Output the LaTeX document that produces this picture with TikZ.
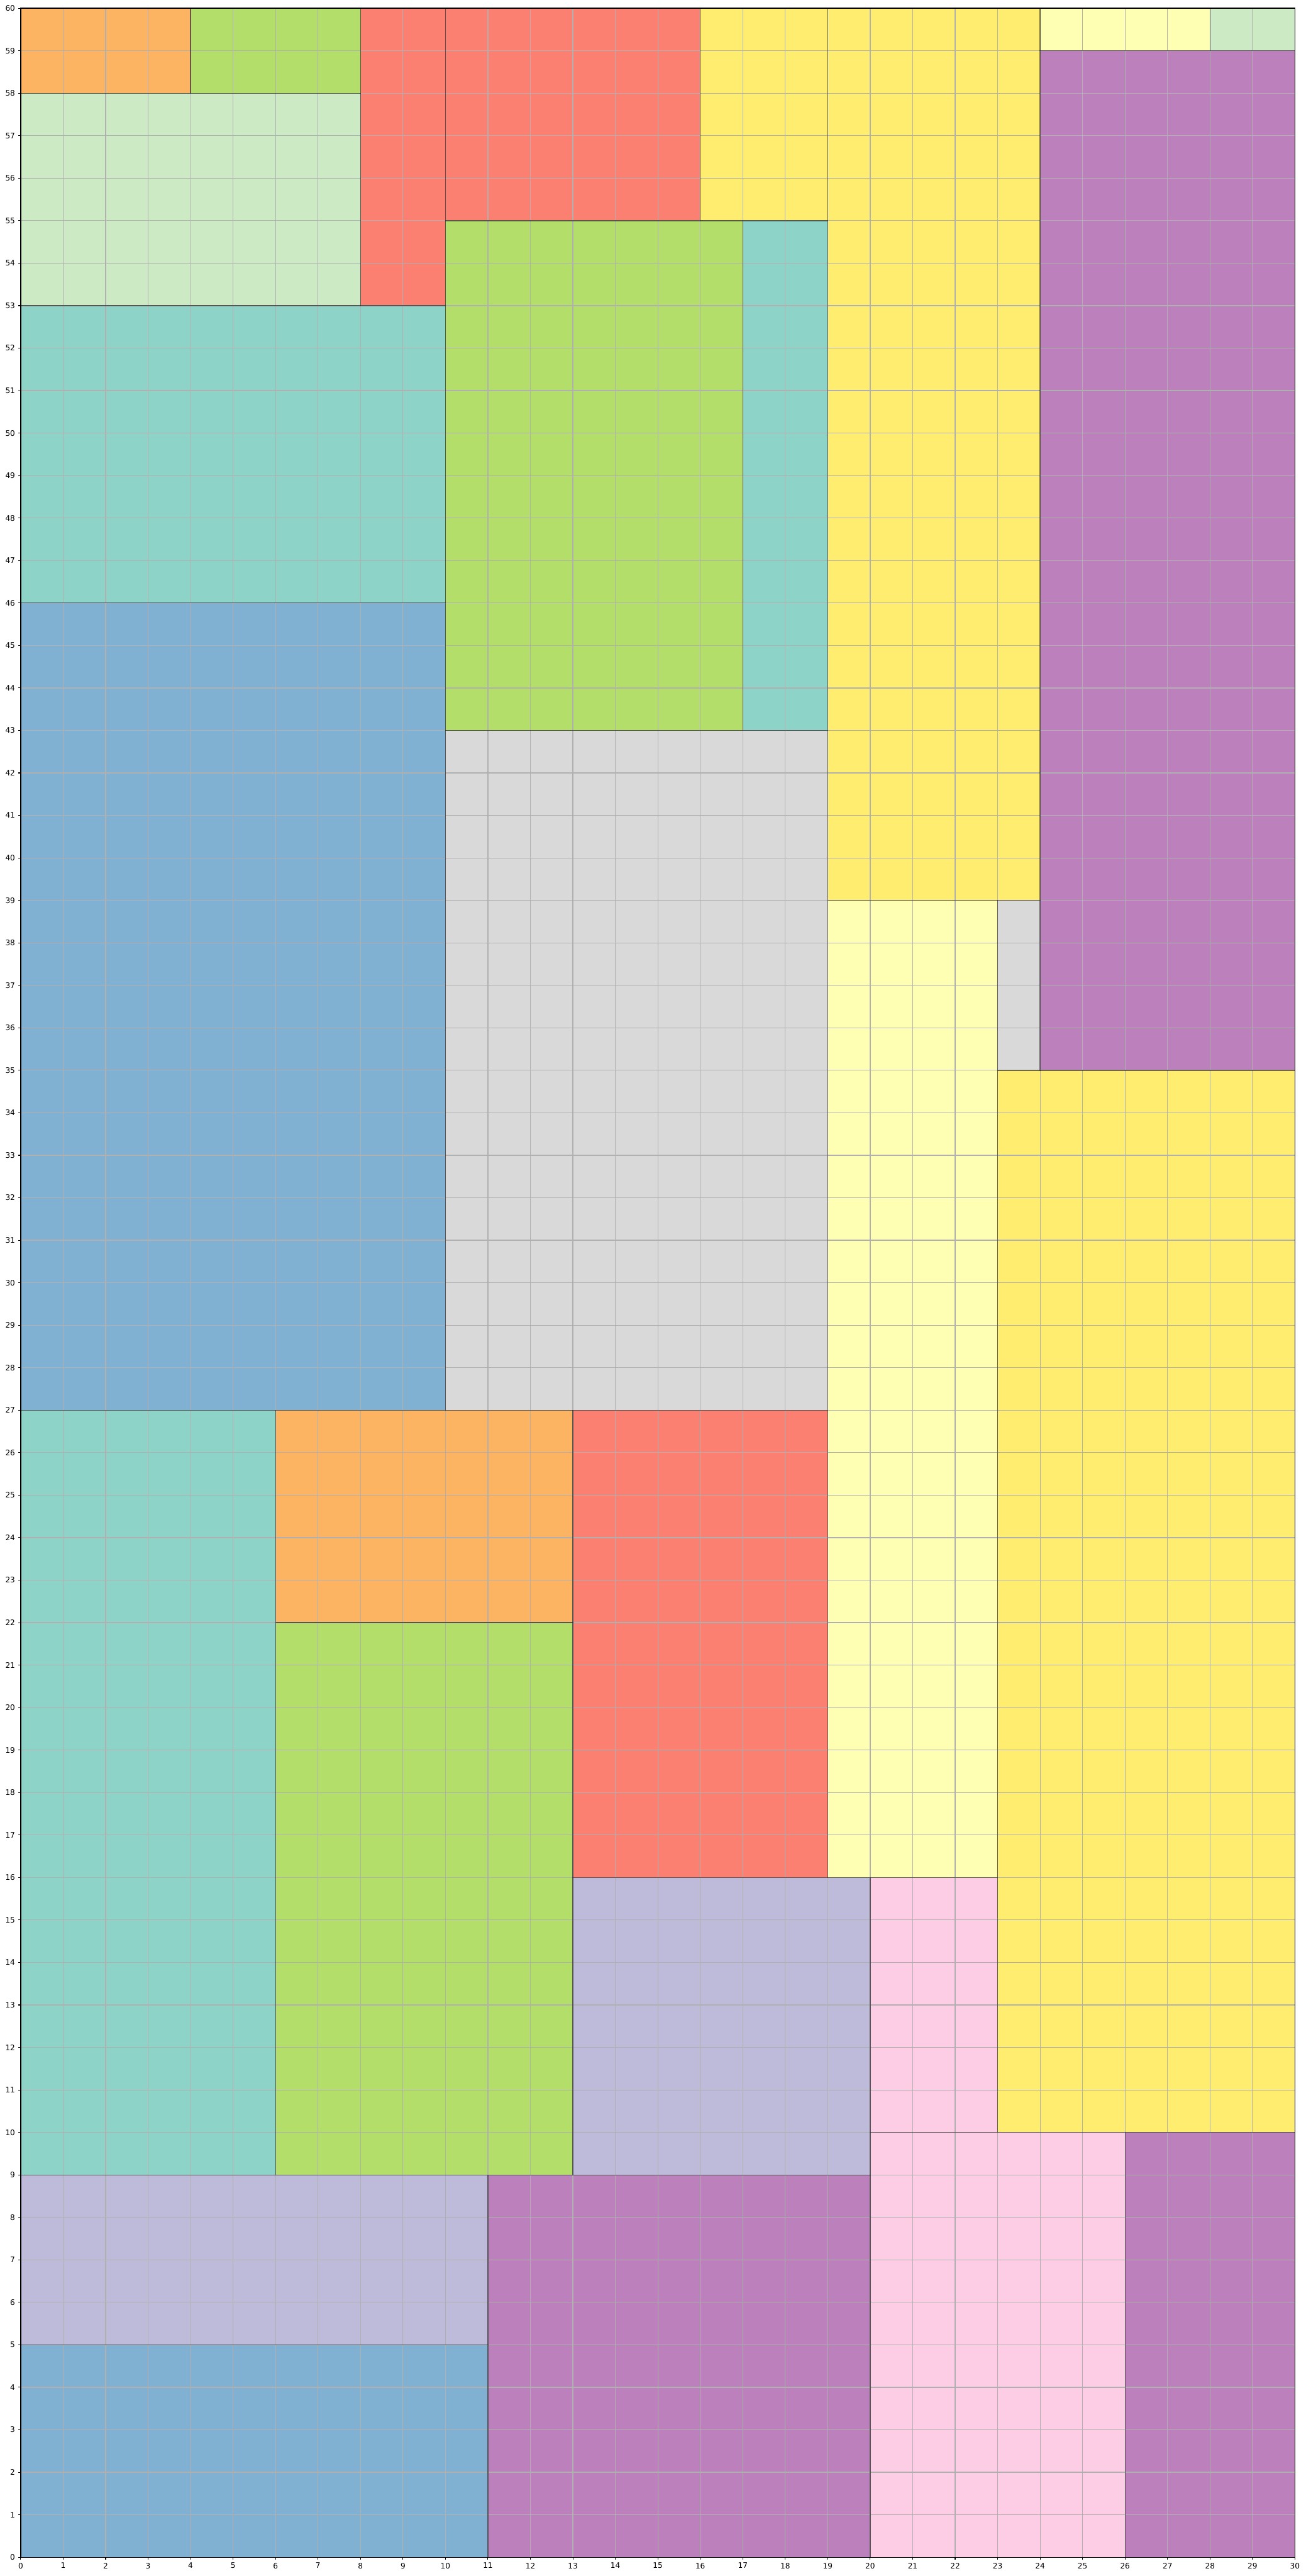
\documentclass[tikz,border=0pt]{standalone}
\usepackage{fontspec}
\setmainfont{DejaVu Sans}
\definecolor{cOr}{HTML}{FDB462}
\definecolor{cGr}{HTML}{B3DE69}
\definecolor{cRd}{HTML}{FB8072}
\definecolor{cTl}{HTML}{8DD3C7}
\definecolor{cBl}{HTML}{80B1D3}
\definecolor{cGy}{HTML}{D9D9D9}
\definecolor{cPy}{HTML}{FFFFB3}
\definecolor{cYl}{HTML}{FFED6F}
\definecolor{cLv}{HTML}{BEBADA}
\definecolor{cPk}{HTML}{FCCDE5}
\definecolor{cPu}{HTML}{BC80BD}
\definecolor{cLg}{HTML}{CCEBC5}
\definecolor{gridc}{HTML}{B0B0B0}
\tikzset{
  cell/.style={fill=#1, draw=none},
  celledge/.style={draw=black, draw opacity=0.3, line width=0.55pt},
  gridline/.style={draw=gridc, line width=0.5pt},
  frame/.style={draw=black, line width=0.55pt},
  tickmark/.style={draw=black, line width=0.45pt},
  ticklab/.style={font=\fontsize{5.1}{6}\selectfont, inner sep=0pt}
}
\begin{document}
\begin{tikzpicture}[x=1cm,y=1cm]
\useasboundingbox (-0.487,-0.4416) rectangle (30.247,60.195);
\fill[white] (-0.487,-0.4416) rectangle (30.247,60.195);
% rectangles: x1/y1/x2/y2/colour
\foreach \a/\b/\c/\d/\col in {
  0/58/4/60/cOr, 4/58/8/60/cGr, 8/53/10/60/cRd, 10/55/16/60/cRd,
  16/55/19/60/cYl, 19/39/24/60/cYl, 24/59/28/60/cPy, 28/59/30/60/cLg,
  24/35/30/59/cPu, 0/53/8/58/cLg, 0/46/10/53/cTl, 10/43/17/55/cGr,
  17/43/19/55/cTl, 0/27/10/46/cBl, 10/27/19/43/cGy, 19/16/23/39/cPy,
  23/35/24/39/cGy, 23/10/30/35/cYl, 0/9/6/27/cTl, 6/22/13/27/cOr,
  13/16/19/27/cRd, 6/9/13/22/cGr, 13/9/20/16/cLv, 20/10/23/16/cPk,
  0/5/11/9/cLv, 0/0/11/5/cBl, 11/0/20/9/cPu, 20/0/26/10/cPk, 26/0/30/10/cPu}
  {\fill[cell=\col] (\a,\b) rectangle (\c,\d);}
% grid
\foreach \i in {1,...,29} {\draw[gridline] (\i,0) -- (\i,60);}
\foreach \j in {1,...,59} {\draw[gridline] (0,\j) -- (30,\j);}
% rectangle edges
\foreach \a/\b/\c/\d in {
  0/58/4/60, 4/58/8/60, 8/53/10/60, 10/55/16/60,
  16/55/19/60, 19/39/24/60, 24/59/28/60, 28/59/30/60,
  24/35/30/59, 0/53/8/58, 0/46/10/53, 10/43/17/55,
  17/43/19/55, 0/27/10/46, 10/27/19/43, 19/16/23/39,
  23/35/24/39, 23/10/30/35, 0/9/6/27, 6/22/13/27,
  13/16/19/27, 6/9/13/22, 13/9/20/16, 20/10/23/16,
  0/5/11/9, 0/0/11/5, 11/0/20/9, 20/0/26/10, 26/0/30/10}
  {\draw[celledge] (\a,\b) rectangle (\c,\d);}
% frame
\draw[frame] (0,0) rectangle (30,60);
% ticks and labels
\foreach \i in {0,...,30} {
  \draw[tickmark] (\i,0) -- (\i,-0.063);
  \node[ticklab, anchor=north] (xl\i) at (\i,-0.126) {\i};
}
\foreach \j in {0,...,60} {
  \draw[tickmark] (0,\j) -- (-0.063,\j);
  \node[ticklab, anchor=east] (yl\j) at (-0.126,\j) {\j};
}
\end{tikzpicture}
\end{document}
